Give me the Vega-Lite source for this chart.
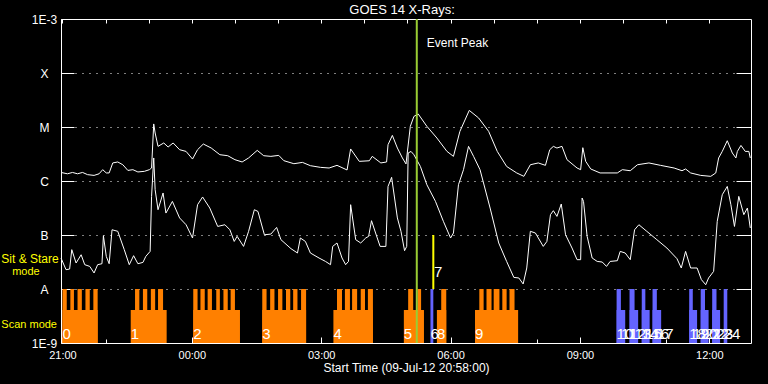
{
"$schema": "https://vega.github.io/schema/vega-lite/v6.json",
"width": 690, "height": 324,
"autosize": "none",
"padding": {"left": 61, "top": 19, "right": 17, "bottom": 41},
"background": "black",
"config": {"view": {"stroke": "white", "strokeWidth": 1}, "font": "Liberation Sans"},
"title": {"text": "GOES 14 X-Rays:", "color": "white", "font": "Liberation Sans", "fontSize": 13, "fontWeight": "normal", "frame": "group", "offset": -4, "anchor": "middle", "dx": -4},
"resolve": {"axis": {"x": "independent", "y": "independent"}},
"layer": [
{
"data": {"values": [
{"s":"2012-07-09T21:00Z","e":"2012-07-09T21:49Z","lo":1e-9,"hi":4.08e-9,"m":"scan"},
{"s":"2012-07-09T21:00Z","e":"2012-07-09T21:06Z","lo":1e-9,"hi":1e-8,"m":"scan"},
{"s":"2012-07-09T21:11Z","e":"2012-07-09T21:16Z","lo":1e-9,"hi":1e-8,"m":"scan"},
{"s":"2012-07-09T21:21Z","e":"2012-07-09T21:27Z","lo":1e-9,"hi":1e-8,"m":"scan"},
{"s":"2012-07-09T21:32Z","e":"2012-07-09T21:38Z","lo":1e-9,"hi":1e-8,"m":"scan"},
{"s":"2012-07-09T21:43Z","e":"2012-07-09T21:49Z","lo":1e-9,"hi":1e-8,"m":"scan"},
{"s":"2012-07-09T22:35Z","e":"2012-07-09T23:25Z","lo":1e-9,"hi":4.08e-9,"m":"scan"},
{"s":"2012-07-09T22:41Z","e":"2012-07-09T22:47Z","lo":1e-9,"hi":1e-8,"m":"scan"},
{"s":"2012-07-09T22:52Z","e":"2012-07-09T22:58Z","lo":1e-9,"hi":1e-8,"m":"scan"},
{"s":"2012-07-09T23:03Z","e":"2012-07-09T23:09Z","lo":1e-9,"hi":1e-8,"m":"scan"},
{"s":"2012-07-09T23:13Z","e":"2012-07-09T23:20Z","lo":1e-9,"hi":1e-8,"m":"scan"},
{"s":"2012-07-10T00:02Z","e":"2012-07-10T01:07Z","lo":1e-9,"hi":4.08e-9,"m":"scan"},
{"s":"2012-07-10T00:02Z","e":"2012-07-10T00:08Z","lo":1e-9,"hi":1e-8,"m":"scan"},
{"s":"2012-07-10T00:12Z","e":"2012-07-10T00:18Z","lo":1e-9,"hi":1e-8,"m":"scan"},
{"s":"2012-07-10T00:22Z","e":"2012-07-10T00:28Z","lo":1e-9,"hi":1e-8,"m":"scan"},
{"s":"2012-07-10T00:34Z","e":"2012-07-10T00:39Z","lo":1e-9,"hi":1e-8,"m":"scan"},
{"s":"2012-07-10T00:44Z","e":"2012-07-10T00:50Z","lo":1e-9,"hi":1e-8,"m":"scan"},
{"s":"2012-07-10T00:54Z","e":"2012-07-10T01:00Z","lo":1e-9,"hi":1e-8,"m":"scan"},
{"s":"2012-07-10T01:38Z","e":"2012-07-10T02:39Z","lo":1e-9,"hi":4.08e-9,"m":"scan"},
{"s":"2012-07-10T01:38Z","e":"2012-07-10T01:44Z","lo":1e-9,"hi":1e-8,"m":"scan"},
{"s":"2012-07-10T01:49Z","e":"2012-07-10T01:55Z","lo":1e-9,"hi":1e-8,"m":"scan"},
{"s":"2012-07-10T02:00Z","e":"2012-07-10T02:06Z","lo":1e-9,"hi":1e-8,"m":"scan"},
{"s":"2012-07-10T02:11Z","e":"2012-07-10T02:17Z","lo":1e-9,"hi":1e-8,"m":"scan"},
{"s":"2012-07-10T02:21Z","e":"2012-07-10T02:27Z","lo":1e-9,"hi":1e-8,"m":"scan"},
{"s":"2012-07-10T02:32Z","e":"2012-07-10T02:39Z","lo":1e-9,"hi":1e-8,"m":"scan"},
{"s":"2012-07-10T03:17Z","e":"2012-07-10T04:12Z","lo":1e-9,"hi":4.08e-9,"m":"scan"},
{"s":"2012-07-10T03:22Z","e":"2012-07-10T03:29Z","lo":1e-9,"hi":1e-8,"m":"scan"},
{"s":"2012-07-10T03:33Z","e":"2012-07-10T03:40Z","lo":1e-9,"hi":1e-8,"m":"scan"},
{"s":"2012-07-10T03:43Z","e":"2012-07-10T03:50Z","lo":1e-9,"hi":1e-8,"m":"scan"},
{"s":"2012-07-10T03:55Z","e":"2012-07-10T04:01Z","lo":1e-9,"hi":1e-8,"m":"scan"},
{"s":"2012-07-10T04:05Z","e":"2012-07-10T04:12Z","lo":1e-9,"hi":1e-8,"m":"scan"},
{"s":"2012-07-10T04:55Z","e":"2012-07-10T05:23Z","lo":1e-9,"hi":4.08e-9,"m":"scan"},
{"s":"2012-07-10T05:01Z","e":"2012-07-10T05:08Z","lo":1e-9,"hi":1e-8,"m":"scan"},
{"s":"2012-07-10T05:14Z","e":"2012-07-10T05:19Z","lo":1e-9,"hi":1e-8,"m":"scan"},
{"s":"2012-07-10T05:32Z","e":"2012-07-10T05:36Z","lo":1e-9,"hi":1e-8,"m":"sit"},
{"s":"2012-07-10T05:41Z","e":"2012-07-10T05:54Z","lo":1e-9,"hi":4.08e-9,"m":"scan"},
{"s":"2012-07-10T05:47Z","e":"2012-07-10T05:54Z","lo":1e-9,"hi":1e-8,"m":"scan"},
{"s":"2012-07-10T06:34Z","e":"2012-07-10T07:34Z","lo":1e-9,"hi":4.08e-9,"m":"scan"},
{"s":"2012-07-10T06:40Z","e":"2012-07-10T06:46Z","lo":1e-9,"hi":1e-8,"m":"scan"},
{"s":"2012-07-10T06:50Z","e":"2012-07-10T06:57Z","lo":1e-9,"hi":1e-8,"m":"scan"},
{"s":"2012-07-10T07:00Z","e":"2012-07-10T07:08Z","lo":1e-9,"hi":1e-8,"m":"scan"},
{"s":"2012-07-10T07:12Z","e":"2012-07-10T07:18Z","lo":1e-9,"hi":1e-8,"m":"scan"},
{"s":"2012-07-10T07:22Z","e":"2012-07-10T07:29Z","lo":1e-9,"hi":1e-8,"m":"scan"},
{"s":"2012-07-10T09:51Z","e":"2012-07-10T09:57Z","lo":1e-9,"hi":1e-8,"m":"sit"},
{"s":"2012-07-10T09:51Z","e":"2012-07-10T10:03Z","lo":1e-9,"hi":4.08e-9,"m":"sit"},
{"s":"2012-07-10T10:09Z","e":"2012-07-10T10:16Z","lo":1e-9,"hi":1e-8,"m":"sit"},
{"s":"2012-07-10T10:09Z","e":"2012-07-10T10:21Z","lo":1e-9,"hi":4.08e-9,"m":"sit"},
{"s":"2012-07-10T10:26Z","e":"2012-07-10T10:31Z","lo":1e-9,"hi":1e-8,"m":"sit"},
{"s":"2012-07-10T10:26Z","e":"2012-07-10T10:37Z","lo":1e-9,"hi":4.08e-9,"m":"sit"},
{"s":"2012-07-10T10:41Z","e":"2012-07-10T10:47Z","lo":1e-9,"hi":1e-8,"m":"sit"},
{"s":"2012-07-10T10:41Z","e":"2012-07-10T10:53Z","lo":1e-9,"hi":4.08e-9,"m":"sit"},
{"s":"2012-07-10T11:32Z","e":"2012-07-10T11:37Z","lo":1e-9,"hi":1e-8,"m":"sit"},
{"s":"2012-07-10T11:32Z","e":"2012-07-10T11:43Z","lo":1e-9,"hi":4.08e-9,"m":"sit"},
{"s":"2012-07-10T11:48Z","e":"2012-07-10T11:54Z","lo":1e-9,"hi":1e-8,"m":"sit"},
{"s":"2012-07-10T11:48Z","e":"2012-07-10T11:59Z","lo":1e-9,"hi":4.08e-9,"m":"sit"},
{"s":"2012-07-10T12:04Z","e":"2012-07-10T12:10Z","lo":1e-9,"hi":1e-8,"m":"sit"},
{"s":"2012-07-10T12:04Z","e":"2012-07-10T12:15Z","lo":1e-9,"hi":4.08e-9,"m":"sit"},
{"s":"2012-07-10T12:20Z","e":"2012-07-10T12:25Z","lo":1e-9,"hi":1e-8,"m":"sit"}
], "format": {"parse": {"s": "date", "e": "date"}}},
"mark": {"type": "rect"},
"encoding": {
"x": {"field": "s", "type": "temporal", "scale": {"type": "utc", "nice": false, "domain": [{"year":2012,"month":7,"date":9,"hours":20,"minutes":58,"utc":true},{"year":2012,"month":7,"date":10,"hours":12,"minutes":58,"utc":true}]},
 "axis": {"orient": "top", "values": [
  {"year":2012,"month":7,"date":9,"hours":21,"utc":true},{"year":2012,"month":7,"date":9,"hours":22,"utc":true},{"year":2012,"month":7,"date":9,"hours":23,"utc":true},
  {"year":2012,"month":7,"date":10,"hours":0,"utc":true},{"year":2012,"month":7,"date":10,"hours":1,"utc":true},{"year":2012,"month":7,"date":10,"hours":2,"utc":true},
  {"year":2012,"month":7,"date":10,"hours":3,"utc":true},{"year":2012,"month":7,"date":10,"hours":4,"utc":true},{"year":2012,"month":7,"date":10,"hours":5,"utc":true},
  {"year":2012,"month":7,"date":10,"hours":6,"utc":true},{"year":2012,"month":7,"date":10,"hours":7,"utc":true},{"year":2012,"month":7,"date":10,"hours":8,"utc":true},
  {"year":2012,"month":7,"date":10,"hours":9,"utc":true},{"year":2012,"month":7,"date":10,"hours":10,"utc":true},{"year":2012,"month":7,"date":10,"hours":11,"utc":true},
  {"year":2012,"month":7,"date":10,"hours":12,"utc":true}],
  "tickSize": -4, "tickColor": "white", "labels": false, "domain": false, "grid": false, "title": null}},
"x2": {"field": "e"},
"y": {"field": "lo", "type": "quantitative", "scale": {"type": "log", "domain": [1e-9, 1e-3]}, "axis": null},
"y2": {"field": "hi"},
"color": {"field": "m", "type": "nominal", "scale": {"domain": ["scan", "sit"], "range": ["#ff8000", "#6464ff"]}, "legend": null}
}
},
{
"data": {"values": [
{"t":"2012-07-09T21:00Z","f":1.19e-9,"txt":"0"},
{"t":"2012-07-09T22:35Z","f":1.19e-9,"txt":"1"},
{"t":"2012-07-10T00:02Z","f":1.19e-9,"txt":"2"},
{"t":"2012-07-10T01:38Z","f":1.19e-9,"txt":"3"},
{"t":"2012-07-10T03:17Z","f":1.19e-9,"txt":"4"},
{"t":"2012-07-10T04:55Z","f":1.19e-9,"txt":"5"},
{"t":"2012-07-10T05:32Z","f":1.19e-9,"txt":"6"},
{"t":"2012-07-10T05:37Z","f":1.69e-8,"txt":"7"},
{"t":"2012-07-10T05:41Z","f":1.19e-9,"txt":"8"},
{"t":"2012-07-10T06:34Z","f":1.19e-9,"txt":"9"},
{"t":"2012-07-10T09:51Z","f":1.19e-9,"txt":"10"},
{"t":"2012-07-10T09:57Z","f":1.19e-9,"txt":"11"},
{"t":"2012-07-10T10:09Z","f":1.19e-9,"txt":"12"},
{"t":"2012-07-10T10:16Z","f":1.19e-9,"txt":"13"},
{"t":"2012-07-10T10:26Z","f":1.19e-9,"txt":"14"},
{"t":"2012-07-10T10:31Z","f":1.19e-9,"txt":"15"},
{"t":"2012-07-10T10:41Z","f":1.19e-9,"txt":"16"},
{"t":"2012-07-10T10:47Z","f":1.19e-9,"txt":"17"},
{"t":"2012-07-10T11:32Z","f":1.19e-9,"txt":"18"},
{"t":"2012-07-10T11:37Z","f":1.19e-9,"txt":"19"},
{"t":"2012-07-10T11:48Z","f":1.19e-9,"txt":"20"},
{"t":"2012-07-10T11:54Z","f":1.19e-9,"txt":"21"},
{"t":"2012-07-10T12:04Z","f":1.19e-9,"txt":"22"},
{"t":"2012-07-10T12:10Z","f":1.19e-9,"txt":"23"},
{"t":"2012-07-10T12:20Z","f":1.19e-9,"txt":"24"}
], "format": {"parse": {"t": "date"}}},
"mark": {"type": "text", "align": "left", "baseline": "alphabetic", "color": "white", "font": "Liberation Sans", "fontSize": 15},
"encoding": {
"x": {"field": "t", "type": "temporal", "scale": {"type": "utc", "nice": false, "domain": [{"year":2012,"month":7,"date":9,"hours":20,"minutes":58,"utc":true},{"year":2012,"month":7,"date":10,"hours":12,"minutes":58,"utc":true}]}, "axis": null},
"y": {"field": "f", "type": "quantitative", "scale": {"type": "log", "domain": [1e-9, 1e-3]}, "axis": null},
"text": {"field": "txt"}
}
},
{
"data": {"values": [
{"t":"2012-07-09T20:58Z","f":1.44e-6},{"t":"2012-07-09T21:07Z","f":1.36e-6},{"t":"2012-07-09T21:14Z","f":1.44e-6},{"t":"2012-07-09T21:21Z","f":1.36e-6},
{"t":"2012-07-09T21:28Z","f":1.44e-6},{"t":"2012-07-09T21:35Z","f":1.31e-6},{"t":"2012-07-09T21:44Z","f":1.27e-6},{"t":"2012-07-09T21:51Z","f":1.36e-6},
{"t":"2012-07-09T21:56Z","f":1.62e-6},{"t":"2012-07-09T22:01Z","f":1.41e-6},{"t":"2012-07-09T22:05Z","f":1.41e-6},{"t":"2012-07-09T22:10Z","f":2.16e-6},
{"t":"2012-07-09T22:17Z","f":2.25e-6},{"t":"2012-07-09T22:24Z","f":2.00e-6},{"t":"2012-07-09T22:31Z","f":1.57e-6},{"t":"2012-07-09T22:38Z","f":1.62e-6},
{"t":"2012-07-09T22:45Z","f":1.47e-6},{"t":"2012-07-09T22:54Z","f":1.51e-6},{"t":"2012-07-09T23:01Z","f":1.62e-6},{"t":"2012-07-09T23:04Z","f":1.74e-6},
{"t":"2012-07-09T23:07Z","f":1.14e-5},{"t":"2012-07-09T23:09Z","f":7.74e-6},{"t":"2012-07-09T23:13Z","f":4.38e-6},{"t":"2012-07-09T23:21Z","f":5.06e-6},
{"t":"2012-07-09T23:27Z","f":4.26e-6},{"t":"2012-07-09T23:34Z","f":5.06e-6},{"t":"2012-07-09T23:43Z","f":3.80e-6},{"t":"2012-07-09T23:52Z","f":3.53e-6},
{"t":"2012-07-10T00:01Z","f":2.55e-6},{"t":"2012-07-10T00:08Z","f":3.80e-6},{"t":"2012-07-10T00:16Z","f":4.84e-6},{"t":"2012-07-10T00:27Z","f":4.08e-6},
{"t":"2012-07-10T00:39Z","f":3.07e-6},{"t":"2012-07-10T00:50Z","f":2.94e-6},{"t":"2012-07-10T01:00Z","f":2.48e-6},{"t":"2012-07-10T01:10Z","f":2.25e-6},
{"t":"2012-07-10T01:19Z","f":2.67e-6},{"t":"2012-07-10T01:31Z","f":3.69e-6},{"t":"2012-07-10T01:40Z","f":2.94e-6},{"t":"2012-07-10T01:50Z","f":2.86e-6},
{"t":"2012-07-10T02:01Z","f":2.98e-6},{"t":"2012-07-10T02:08Z","f":2.38e-6},{"t":"2012-07-10T02:22Z","f":2.09e-6},{"t":"2012-07-10T02:34Z","f":2.21e-6},
{"t":"2012-07-10T02:45Z","f":1.92e-6},{"t":"2012-07-10T02:59Z","f":1.79e-6},{"t":"2012-07-10T03:11Z","f":1.74e-6},{"t":"2012-07-10T03:22Z","f":1.95e-6},
{"t":"2012-07-10T03:36Z","f":1.60e-6},{"t":"2012-07-10T03:41Z","f":3.92e-6},{"t":"2012-07-10T03:53Z","f":2.31e-6},{"t":"2012-07-10T04:07Z","f":2.37e-6},
{"t":"2012-07-10T04:11Z","f":2.86e-6},{"t":"2012-07-10T04:23Z","f":2.16e-6},{"t":"2012-07-10T04:31Z","f":2.25e-6},{"t":"2012-07-10T04:33Z","f":4.70e-6},
{"t":"2012-07-10T04:39Z","f":6.99e-6},{"t":"2012-07-10T04:46Z","f":4.08e-6},{"t":"2012-07-10T04:53Z","f":2.67e-6},{"t":"2012-07-10T04:58Z","f":2.07e-6},
{"t":"2012-07-10T05:04Z","f":1.03e-5},{"t":"2012-07-10T05:09Z","f":1.57e-5},{"t":"2012-07-10T05:15Z","f":1.74e-5},{"t":"2012-07-10T05:27Z","f":1.03e-5},
{"t":"2012-07-10T05:41Z","f":6.25e-6},{"t":"2012-07-10T05:55Z","f":3.53e-6},{"t":"2012-07-10T06:04Z","f":2.86e-6},{"t":"2012-07-10T06:13Z","f":8.30e-6},
{"t":"2012-07-10T06:26Z","f":2.03e-5},{"t":"2012-07-10T06:39Z","f":1.47e-5},{"t":"2012-07-10T06:53Z","f":8.30e-6},{"t":"2012-07-10T07:05Z","f":3.53e-6},
{"t":"2012-07-10T07:18Z","f":1.86e-6},{"t":"2012-07-10T07:32Z","f":1.41e-6},{"t":"2012-07-10T07:42Z","f":1.22e-6},{"t":"2012-07-10T07:51Z","f":2.00e-6},
{"t":"2012-07-10T08:02Z","f":2.16e-6},{"t":"2012-07-10T08:12Z","f":1.95e-6},{"t":"2012-07-10T08:18Z","f":3.80e-6},{"t":"2012-07-10T08:23Z","f":4.38e-6},
{"t":"2012-07-10T08:28Z","f":4.08e-6},{"t":"2012-07-10T08:35Z","f":4.38e-6},{"t":"2012-07-10T08:42Z","f":2.48e-6},{"t":"2012-07-10T08:56Z","f":1.74e-6},
{"t":"2012-07-10T09:01Z","f":1.62e-6},{"t":"2012-07-10T09:04Z","f":4.14e-6},{"t":"2012-07-10T09:08Z","f":2.31e-6},{"t":"2012-07-10T09:15Z","f":1.67e-6},
{"t":"2012-07-10T09:28Z","f":1.41e-6},{"t":"2012-07-10T09:52Z","f":1.41e-6},{"t":"2012-07-10T09:59Z","f":1.62e-6},{"t":"2012-07-10T10:10Z","f":1.55e-6},
{"t":"2012-07-10T10:20Z","f":2.00e-6},{"t":"2012-07-10T10:36Z","f":2.16e-6},{"t":"2012-07-10T10:52Z","f":1.95e-6},{"t":"2012-07-10T11:11Z","f":1.74e-6},
{"t":"2012-07-10T11:22Z","f":1.55e-6},{"t":"2012-07-10T11:27Z","f":1.67e-6},{"t":"2012-07-10T11:34Z","f":1.41e-6},{"t":"2012-07-10T11:48Z","f":1.27e-6},
{"t":"2012-07-10T12:02Z","f":1.22e-6},{"t":"2012-07-10T12:09Z","f":1.41e-6},{"t":"2012-07-10T12:13Z","f":2.67e-6},{"t":"2012-07-10T12:18Z","f":3.53e-6},
{"t":"2012-07-10T12:25Z","f":5.57e-6},{"t":"2012-07-10T12:32Z","f":3.30e-6},{"t":"2012-07-10T12:37Z","f":2.67e-6},{"t":"2012-07-10T12:39Z","f":3.53e-6},
{"t":"2012-07-10T12:44Z","f":4.56e-6},{"t":"2012-07-10T12:50Z","f":3.53e-6},{"t":"2012-07-10T12:55Z","f":3.53e-6},{"t":"2012-07-10T12:57Z","f":2.67e-6}
], "format": {"parse": {"t": "date"}}},
"mark": {"type": "line", "color": "white", "strokeWidth": 1},
"encoding": {
"x": {"field": "t", "type": "temporal", "scale": {"type": "utc", "nice": false, "domain": [{"year":2012,"month":7,"date":9,"hours":20,"minutes":58,"utc":true},{"year":2012,"month":7,"date":10,"hours":12,"minutes":58,"utc":true}]},
 "axis": {"orient": "bottom", "values": [
  {"year":2012,"month":7,"date":9,"hours":21,"utc":true},{"year":2012,"month":7,"date":10,"hours":0,"utc":true},{"year":2012,"month":7,"date":10,"hours":3,"utc":true},
  {"year":2012,"month":7,"date":10,"hours":6,"utc":true},{"year":2012,"month":7,"date":10,"hours":9,"utc":true},{"year":2012,"month":7,"date":10,"hours":12,"utc":true}],
  "labelExpr": "utcFormat(datum.value, '%H:%M')", "tickSize": -6, "tickColor": "white", "labelColor": "white", "labelFont": "Liberation Sans", "labelFontSize": 11, "labelPadding": 12, "labelOverlap": false, "labelFlush": false, "domain": false, "grid": false,
  "title": "Start Time (09-Jul-12 20:58:00)", "titleColor": "white", "titleFont": "Liberation Sans", "titleFontSize": 12, "titleFontWeight": "normal", "titlePadding": 2}},
"y": {"field": "f", "type": "quantitative", "scale": {"type": "log", "domain": [1e-9, 1e-3]},
 "axis": {"orient": "left", "values": [1e-9, 1e-8, 1e-7, 1e-6, 1e-5, 1e-4, 1e-3],
  "labelExpr": "datum.value > 5e-4 ? '1E-3' : datum.value > 5e-5 ? 'X' : datum.value > 5e-6 ? 'M' : datum.value > 5e-7 ? 'C' : datum.value > 5e-8 ? 'B' : datum.value > 5e-9 ? 'A' : '1E-9'",
  "tickSize": -13, "tickColor": "white", "labelColor": "white", "labelFont": "Liberation Sans", "labelFontSize": 12, "labelAlign": "center", "labelBaseline": "middle", "labelPadding": 30, "labelOverlap": false, "labelFlush": false,
  "grid": true, "gridColor": "white", "gridOpacity": 1, "gridDash": [1, 6], "domain": false, "title": null}}
}
},
{
"data": {"values": [
{"t":"2012-07-09T20:58Z","f":3.75e-8},{"t":"2012-07-09T21:05Z","f":2.28e-8},{"t":"2012-07-09T21:10Z","f":2.34e-8},{"t":"2012-07-09T21:13Z","f":5.35e-8},
{"t":"2012-07-09T21:19Z","f":3.03e-8},{"t":"2012-07-09T21:26Z","f":4.31e-8},{"t":"2012-07-09T21:31Z","f":2.82e-8},{"t":"2012-07-09T21:38Z","f":2.62e-8},
{"t":"2012-07-09T21:44Z","f":1.98e-8},{"t":"2012-07-09T21:49Z","f":2.82e-8},{"t":"2012-07-09T21:55Z","f":2.94e-8},{"t":"2012-07-09T21:57Z","f":9.71e-8},
{"t":"2012-07-09T22:01Z","f":4.02e-8},{"t":"2012-07-09T22:05Z","f":2.94e-8},{"t":"2012-07-09T22:09Z","f":1.25e-7},{"t":"2012-07-09T22:17Z","f":1.17e-7},
{"t":"2012-07-09T22:26Z","f":5.35e-8},{"t":"2012-07-09T22:33Z","f":2.82e-8},{"t":"2012-07-09T22:39Z","f":4.14e-8},{"t":"2012-07-09T22:45Z","f":2.94e-8},
{"t":"2012-07-09T22:52Z","f":3.11e-8},{"t":"2012-07-09T22:56Z","f":4.02e-8},{"t":"2012-07-09T23:02Z","f":4.97e-8},{"t":"2012-07-09T23:04Z","f":5.19e-7},
{"t":"2012-07-09T23:07Z","f":2.67e-6},{"t":"2012-07-09T23:09Z","f":6.90e-7},{"t":"2012-07-09T23:13Z","f":2.94e-7},{"t":"2012-07-09T23:20Z","f":6.00e-7},
{"t":"2012-07-09T23:24Z","f":2.55e-7},{"t":"2012-07-09T23:33Z","f":4.19e-7},{"t":"2012-07-09T23:43Z","f":2.07e-7},{"t":"2012-07-09T23:52Z","f":1.55e-7},
{"t":"2012-07-10T00:01Z","f":8.80e-8},{"t":"2012-07-10T00:08Z","f":3.64e-7},{"t":"2012-07-10T00:15Z","f":5.06e-7},{"t":"2012-07-10T00:25Z","f":3.16e-7},
{"t":"2012-07-10T00:36Z","f":1.44e-7},{"t":"2012-07-10T00:46Z","f":1.55e-7},{"t":"2012-07-10T00:53Z","f":1.25e-7},{"t":"2012-07-10T00:59Z","f":7.60e-8},
{"t":"2012-07-10T01:03Z","f":9.44e-8},{"t":"2012-07-10T01:12Z","f":6.15e-8},{"t":"2012-07-10T01:19Z","f":1.17e-7},{"t":"2012-07-10T01:27Z","f":2.94e-7},
{"t":"2012-07-10T01:32Z","f":2.73e-7},{"t":"2012-07-10T01:41Z","f":1.01e-7},{"t":"2012-07-10T01:50Z","f":1.04e-7},{"t":"2012-07-10T01:58Z","f":1.38e-7},
{"t":"2012-07-10T02:04Z","f":8.19e-8},{"t":"2012-07-10T02:18Z","f":5.58e-8},{"t":"2012-07-10T02:27Z","f":4.64e-8},{"t":"2012-07-10T02:31Z","f":8.80e-8},
{"t":"2012-07-10T02:38Z","f":7.60e-8},{"t":"2012-07-10T02:45Z","f":4.64e-8},{"t":"2012-07-10T02:57Z","f":3.75e-8},{"t":"2012-07-10T03:06Z","f":3.24e-8},
{"t":"2012-07-10T03:13Z","f":2.82e-8},{"t":"2012-07-10T03:16Z","f":6.15e-8},{"t":"2012-07-10T03:22Z","f":7.11e-8},{"t":"2012-07-10T03:29Z","f":3.75e-8},
{"t":"2012-07-10T03:34Z","f":2.82e-8},{"t":"2012-07-10T03:38Z","f":3.24e-8},{"t":"2012-07-10T03:41Z","f":3.64e-7},{"t":"2012-07-10T03:48Z","f":8.19e-8},
{"t":"2012-07-10T03:55Z","f":7.11e-8},{"t":"2012-07-10T04:02Z","f":8.80e-8},{"t":"2012-07-10T04:06Z","f":9.44e-8},{"t":"2012-07-10T04:10Z","f":1.84e-7},
{"t":"2012-07-10T04:18Z","f":8.80e-8},{"t":"2012-07-10T04:22Z","f":6.15e-8},{"t":"2012-07-10T04:30Z","f":6.15e-8},{"t":"2012-07-10T04:33Z","f":7.94e-7},
{"t":"2012-07-10T04:38Z","f":1.17e-6},{"t":"2012-07-10T04:46Z","f":2.07e-7},{"t":"2012-07-10T04:51Z","f":1.17e-7},{"t":"2012-07-10T04:56Z","f":5.12e-8},
{"t":"2012-07-10T04:59Z","f":6.15e-8},{"t":"2012-07-10T05:01Z","f":3.30e-6},{"t":"2012-07-10T05:05Z","f":3.53e-6},{"t":"2012-07-10T05:09Z","f":3.07e-6},
{"t":"2012-07-10T05:18Z","f":1.86e-6},{"t":"2012-07-10T05:27Z","f":8.53e-7},{"t":"2012-07-10T05:39Z","f":4.19e-7},{"t":"2012-07-10T05:50Z","f":1.79e-7},
{"t":"2012-07-10T06:00Z","f":8.80e-8},{"t":"2012-07-10T06:04Z","f":1.09e-7},{"t":"2012-07-10T06:11Z","f":8.53e-7},{"t":"2012-07-10T06:18Z","f":1.62e-6},
{"t":"2012-07-10T06:25Z","f":4.38e-6},{"t":"2012-07-10T06:32Z","f":2.86e-6},{"t":"2012-07-10T06:41Z","f":1.62e-6},{"t":"2012-07-10T06:55Z","f":3.16e-7},
{"t":"2012-07-10T07:07Z","f":7.11e-8},{"t":"2012-07-10T07:18Z","f":3.24e-8},{"t":"2012-07-10T07:28Z","f":1.64e-8},{"t":"2012-07-10T07:35Z","f":1.60e-8},
{"t":"2012-07-10T07:41Z","f":1.24e-8},{"t":"2012-07-10T07:46Z","f":2.45e-8},{"t":"2012-07-10T07:51Z","f":1.17e-7},{"t":"2012-07-10T07:58Z","f":1.09e-7},
{"t":"2012-07-10T08:09Z","f":6.15e-8},{"t":"2012-07-10T08:14Z","f":7.60e-8},{"t":"2012-07-10T08:19Z","f":2.38e-7},{"t":"2012-07-10T08:23Z","f":2.82e-7},
{"t":"2012-07-10T08:28Z","f":2.21e-7},{"t":"2012-07-10T08:34Z","f":3.75e-7},{"t":"2012-07-10T08:40Z","f":1.01e-7},{"t":"2012-07-10T08:49Z","f":5.74e-8},
{"t":"2012-07-10T08:56Z","f":3.49e-8},{"t":"2012-07-10T09:01Z","f":3.49e-8},{"t":"2012-07-10T09:03Z","f":4.84e-7},{"t":"2012-07-10T09:05Z","f":4.19e-7},
{"t":"2012-07-10T09:10Z","f":9.44e-8},{"t":"2012-07-10T09:17Z","f":3.75e-8},{"t":"2012-07-10T09:24Z","f":3.24e-8},{"t":"2012-07-10T09:31Z","f":3.16e-8},
{"t":"2012-07-10T09:37Z","f":2.62e-8},{"t":"2012-07-10T09:42Z","f":3.24e-8},{"t":"2012-07-10T09:52Z","f":3.34e-8},{"t":"2012-07-10T09:56Z","f":4.97e-8},
{"t":"2012-07-10T10:03Z","f":4.64e-8},{"t":"2012-07-10T10:10Z","f":3.49e-8},{"t":"2012-07-10T10:16Z","f":1.25e-7},{"t":"2012-07-10T10:22Z","f":1.55e-7},
{"t":"2012-07-10T10:33Z","f":1.17e-7},{"t":"2012-07-10T10:47Z","f":8.19e-8},{"t":"2012-07-10T11:01Z","f":5.74e-8},{"t":"2012-07-10T11:15Z","f":3.64e-8},
{"t":"2012-07-10T11:21Z","f":2.45e-8},{"t":"2012-07-10T11:27Z","f":4.97e-8},{"t":"2012-07-10T11:34Z","f":2.45e-8},{"t":"2012-07-10T11:43Z","f":2.45e-8},
{"t":"2012-07-10T11:49Z","f":1.49e-8},{"t":"2012-07-10T11:55Z","f":1.20e-8},{"t":"2012-07-10T11:59Z","f":1.60e-8},{"t":"2012-07-10T12:06Z","f":2.12e-8},
{"t":"2012-07-10T12:11Z","f":1.79e-7},{"t":"2012-07-10T12:18Z","f":5.57e-7},{"t":"2012-07-10T12:25Z","f":7.94e-7},{"t":"2012-07-10T12:30Z","f":3.64e-7},
{"t":"2012-07-10T12:35Z","f":1.44e-7},{"t":"2012-07-10T12:41Z","f":5.19e-7},{"t":"2012-07-10T12:48Z","f":2.38e-7},{"t":"2012-07-10T12:53Z","f":3.16e-7},
{"t":"2012-07-10T12:57Z","f":1.35e-7}
], "format": {"parse": {"t": "date"}}},
"mark": {"type": "line", "color": "white", "strokeWidth": 1},
"encoding": {
"x": {"field": "t", "type": "temporal", "scale": {"type": "utc", "nice": false, "domain": [{"year":2012,"month":7,"date":9,"hours":20,"minutes":58,"utc":true},{"year":2012,"month":7,"date":10,"hours":12,"minutes":58,"utc":true}]},
 "axis": {"orient": "bottom", "values": [
  {"year":2012,"month":7,"date":9,"hours":21,"utc":true},{"year":2012,"month":7,"date":9,"hours":22,"utc":true},{"year":2012,"month":7,"date":9,"hours":23,"utc":true},
  {"year":2012,"month":7,"date":10,"hours":0,"utc":true},{"year":2012,"month":7,"date":10,"hours":1,"utc":true},{"year":2012,"month":7,"date":10,"hours":2,"utc":true},
  {"year":2012,"month":7,"date":10,"hours":3,"utc":true},{"year":2012,"month":7,"date":10,"hours":4,"utc":true},{"year":2012,"month":7,"date":10,"hours":5,"utc":true},
  {"year":2012,"month":7,"date":10,"hours":6,"utc":true},{"year":2012,"month":7,"date":10,"hours":7,"utc":true},{"year":2012,"month":7,"date":10,"hours":8,"utc":true},
  {"year":2012,"month":7,"date":10,"hours":9,"utc":true},{"year":2012,"month":7,"date":10,"hours":10,"utc":true},{"year":2012,"month":7,"date":10,"hours":11,"utc":true},
  {"year":2012,"month":7,"date":10,"hours":12,"utc":true}],
  "tickSize": -4, "tickColor": "white", "labels": false, "domain": false, "grid": false, "title": null}},
"y": {"field": "f", "type": "quantitative", "scale": {"type": "log", "domain": [1e-9, 1e-3]},
 "axis": {"orient": "right", "values": [1e-8, 1e-7, 1e-6, 1e-5, 1e-4], "tickSize": -15, "tickColor": "white", "labels": false, "domain": false, "grid": false, "title": null}}
}
},
{
"data": {"values": [{"t": "2012-07-10T05:13Z"}], "format": {"parse": {"t": "date"}}},
"mark": {"type": "rule", "color": "#99cc33", "strokeWidth": 2},
"encoding": {
"x": {"field": "t", "type": "temporal", "scale": {"type": "utc", "nice": false, "domain": [{"year":2012,"month":7,"date":9,"hours":20,"minutes":58,"utc":true},{"year":2012,"month":7,"date":10,"hours":12,"minutes":58,"utc":true}]}, "axis": null}
}
},
{
"data": {"values": [{"t": "2012-07-10T05:36Z", "lo": 1e-8, "hi": 1e-7}], "format": {"parse": {"t": "date"}}},
"mark": {"type": "rule", "color": "#ffff00", "strokeWidth": 2},
"encoding": {
"x": {"field": "t", "type": "temporal", "scale": {"type": "utc", "nice": false, "domain": [{"year":2012,"month":7,"date":9,"hours":20,"minutes":58,"utc":true},{"year":2012,"month":7,"date":10,"hours":12,"minutes":58,"utc":true}]}, "axis": null},
"y": {"field": "lo", "type": "quantitative", "scale": {"type": "log", "domain": [1e-9, 1e-3]}, "axis": null},
"y2": {"field": "hi"}
}
},
{
"data": {"values": [{"t": "2012-07-10T05:27Z", "f": 3.07e-4, "txt": "Event Peak"}], "format": {"parse": {"t": "date"}}},
"mark": {"type": "text", "align": "left", "baseline": "alphabetic", "color": "white", "font": "Liberation Sans", "fontSize": 12},
"encoding": {
"x": {"field": "t", "type": "temporal", "scale": {"type": "utc", "nice": false, "domain": [{"year":2012,"month":7,"date":9,"hours":20,"minutes":58,"utc":true},{"year":2012,"month":7,"date":10,"hours":12,"minutes":58,"utc":true}]}, "axis": null},
"y": {"field": "f", "type": "quantitative", "scale": {"type": "log", "domain": [1e-9, 1e-3]}, "axis": null},
"text": {"field": "txt"}
}
},
{
"data": {"values": [
{"t": "2012-07-09T19:35Z", "f": 3.07e-8, "txt": "Sit & Stare", "sz": 12},
{"t": "2012-07-09T19:50Z", "f": 1.84e-8, "txt": "mode", "sz": 11},
{"t": "2012-07-09T19:35Z", "f": 1.9e-9, "txt": "Scan mode", "sz": 11}
], "format": {"parse": {"t": "date"}}},
"mark": {"type": "text", "align": "left", "baseline": "alphabetic", "color": "#ffff00", "font": "Liberation Sans"},
"encoding": {
"x": {"field": "t", "type": "temporal", "scale": {"type": "utc", "nice": false, "domain": [{"year":2012,"month":7,"date":9,"hours":20,"minutes":58,"utc":true},{"year":2012,"month":7,"date":10,"hours":12,"minutes":58,"utc":true}]}, "axis": null},
"y": {"field": "f", "type": "quantitative", "scale": {"type": "log", "domain": [1e-9, 1e-3]}, "axis": null},
"text": {"field": "txt"},
"size": {"field": "sz", "type": "quantitative", "scale": null}
}
}
]
}
